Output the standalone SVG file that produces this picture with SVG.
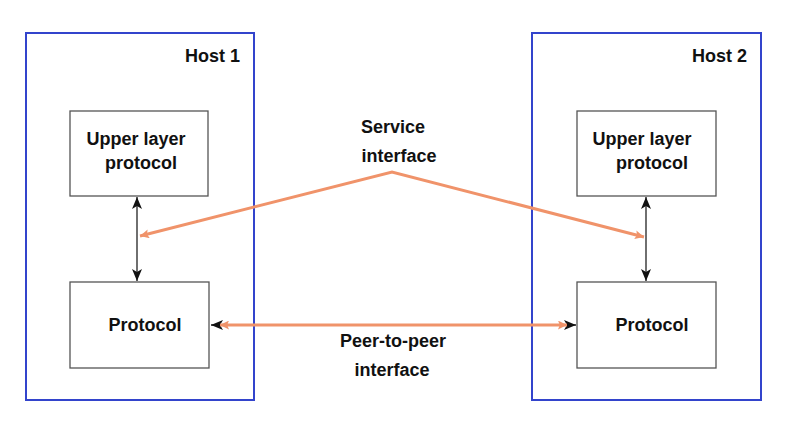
<svg xmlns="http://www.w3.org/2000/svg" width="786" height="424" viewBox="0 0 786 424">
<style>
.host{fill:none;stroke:#3344cc;stroke-width:2}
.box{fill:#fff;stroke:#555;stroke-width:1.3}
.t{font-family:"Liberation Sans",Arial,sans-serif;font-weight:bold;font-size:18px;fill:#111}
.blk{stroke:#222;stroke-width:1.3;fill:none}
.or{stroke:#f0936a;stroke-width:3;fill:none}
</style>
<defs>
<marker id="ab" viewBox="0 0 12 10" refX="12" refY="5" markerWidth="12" markerHeight="10" markerUnits="userSpaceOnUse" orient="auto-start-reverse">
<path d="M0,0 L12,5 L0,10 L3,5 Z" fill="#111"/>
</marker>
<marker id="ao" viewBox="0 0 10 10" refX="10" refY="5" markerWidth="9" markerHeight="9" markerUnits="userSpaceOnUse" orient="auto-start-reverse">
<path d="M0,0 L10,5 L0,10 L2,5 Z" fill="#f0936a"/>
</marker>
</defs>
<rect width="786" height="424" fill="#fff"/>
<g id="host1">
<rect class="host" x="26" y="33" width="228" height="367"/>
<text class="t" x="240" y="62" text-anchor="end">Host 1</text>
</g>
<g id="host2">
<rect class="host" x="532" y="33" width="229" height="367"/>
<text class="t" x="747" y="62" text-anchor="end">Host 2</text>
</g>
<g id="upper1">
<rect class="box" x="70" y="111" width="138" height="85"/>
<text class="t" x="136" y="145" text-anchor="middle">Upper layer</text>
<text class="t" x="141" y="169" text-anchor="middle">protocol</text>
</g>
<g id="proto1">
<rect class="box" x="70" y="282" width="139" height="86"/>
<text class="t" x="145" y="331" text-anchor="middle">Protocol</text>
</g>
<g id="upper2">
<rect class="box" x="577" y="111" width="139" height="85"/>
<text class="t" x="642" y="145" text-anchor="middle">Upper layer</text>
<text class="t" x="652" y="169" text-anchor="middle">protocol</text>
</g>
<g id="proto2">
<rect class="box" x="577" y="282" width="139" height="86"/>
<text class="t" x="652" y="331" text-anchor="middle">Protocol</text>
</g>
<g id="labels">
<text class="t" x="393" y="133" text-anchor="middle">Service</text>
<text class="t" x="399" y="162" text-anchor="middle">interface</text>
<text class="t" x="393" y="347" text-anchor="middle">Peer-to-peer</text>
<text class="t" x="392" y="376" text-anchor="middle">interface</text>
</g>
<g id="connectors">
<line class="blk" x1="137" y1="197" x2="137" y2="281" marker-start="url(#ab)" marker-end="url(#ab)"/>
<line class="blk" x1="646" y1="197" x2="646" y2="281" marker-start="url(#ab)" marker-end="url(#ab)"/>
<polyline class="or" points="140,236 392,172 644,237" marker-start="url(#ao)" marker-end="url(#ao)"/>
<line class="blk" x1="211" y1="325" x2="576" y2="325" marker-start="url(#ab)" marker-end="url(#ab)"/>
<line class="or" x1="220" y1="325" x2="567" y2="325" marker-start="url(#ao)" marker-end="url(#ao)"/>
</g>
</svg>
